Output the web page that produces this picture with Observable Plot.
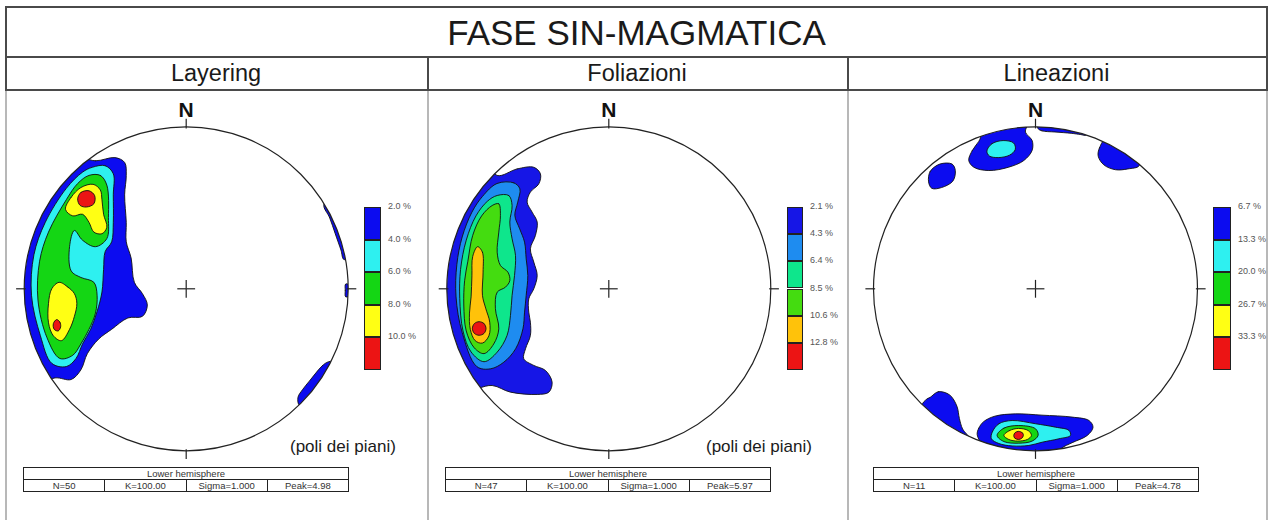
<!DOCTYPE html>
<html><head><meta charset="utf-8">
<script src="https://cdn.jsdelivr.net/npm/d3@7"></script>
<script src="https://cdn.jsdelivr.net/npm/@observablehq/plot@0.6"></script>
<style>
body{margin:0;background:#fff;font-family:"Liberation Sans",Arial,sans-serif;}
#root{position:relative;width:1272px;height:520px;overflow:hidden;background:#fff;}
.a{position:absolute;}
.ln{position:absolute;}
.lbl{position:absolute;font-size:9px;color:#555;white-space:nowrap;line-height:10px;}
table.info{position:absolute;border-collapse:collapse;font-size:9.5px;color:#333;table-layout:fixed;}
table.info td{border:1.4px solid #222;text-align:center;padding:0;height:11px;line-height:10px;}
</style></head><body><div id="root"></div>
<script>
// ---------- data ----------
const figureTitle = "FASE SIN-MAGMATICA";
const panelTitles = ["Layering", "Foliazioni", "Lineazioni"];
const layeringLevels = [2.0, 4.0, 6.0, 8.0, 10.0];
const foliazioniLevels = [2.1, 4.3, 6.4, 8.5, 10.6, 12.8];
const lineazioniLevels = [6.7, 13.3, 20.0, 26.7, 33.3];
const paletteA = ["#0c0cf0", "#2ef0f0", "#14d614", "#ffff14", "#ec1414"];
const paletteB = ["#1616e6", "#1e8cf0", "#0ee68c", "#44dc10", "#ffc20a", "#ec1414"];
const statN = [50, 47, 11];
const statK = ["100.00", "100.00", "100.00"];
const statSigma = ["1.000", "1.000", "1.000"];
const statPeak = ["4.98", "5.97", "4.78"];
const hemisphere = "Lower hemisphere";
const captionText = "(poli dei piani)";
const cardinals = [{dir: "N", az: 0}, {dir: "E", az: 90}, {dir: "S", az: 180}, {dir: "W", az: 270}];

// contour outlines, in % of the net radius (x east, y north)
const layBlueMain = [[-72,82],[-56,79],[-44,81],[-38,78],[-37,70],[-38,58],[-37,41],[-37,29],[-34,19],[-32,4],[-27,-3],[-24,-10],[-27,-17],[-36,-18],[-46,-25],[-54,-31],[-61,-40],[-65,-50],[-71,-56],[-81,-55],[-95,-60],[-115,-25],[-115,15],[-105,55]];
const layBlueEast = [[85,52],[88.5,44],[92,34],[95.5,24],[97.5,18],[108,25],[105,45],[95,62]];
const layBlueEastTip = [[98.5,3],[98.2,-1],[98.5,-5],[106,-1]];
const layBlueSE = [[88,-45],[84,-47.5],[80,-52],[76,-57],[72,-62],[69,-67],[70,-72],[82,-70],[95,-55],[100,-45]];
const layCyan = [[-58,75],[-50,76],[-45,71],[-45,58],[-45,41],[-46,29],[-50,23],[-51,12],[-52,-2],[-55,-14],[-59,-25],[-64,-34],[-68,-43],[-74,-48],[-83,-46],[-90,-29],[-95.5,-4],[-94,21],[-87,41],[-74,62],[-64,72]];
const layGreen = [[-60,70],[-53,70],[-49,64],[-48,44],[-49,31],[-56,26],[-64,30],[-69,36],[-72,26],[-71,11],[-65,7],[-57,4],[-55,-4],[-56,-15],[-60,-25],[-65,-34],[-70,-41],[-78,-43],[-86,-30],[-91.5,-7],[-90.5,17],[-85,35],[-74,55],[-67,65]];
const layYellowN = [[-74.5,49],[-71,56.5],[-65,62.5],[-57.5,64.5],[-53,61],[-52,55],[-51,46],[-49,38],[-52,34],[-57,35],[-60,41],[-64,46],[-70,45]];
const layYellowS = [[-78.5,4],[-73,1],[-69,-3],[-67.5,-9],[-69,-17],[-72,-25],[-77,-32],[-82,-29],[-85,-21],[-85,-9],[-83,0]];
const layRedN = [[-67,55.5],[-65,59.5],[-60,60.5],[-56.5,57.5],[-57,52.5],[-61.5,50.5],[-65.5,51.5]];
const layRedS = [[-80,-19],[-78,-20.5],[-77.5,-23.5],[-79,-26],[-81.5,-25],[-82,-21.5]];

const folBlue = [[-69,70],[-56.6,74],[-46.3,75],[-42.2,71],[-43.2,64.8],[-48.4,59.7],[-50.4,53.5],[-47.3,47.3],[-44.2,41.2],[-45.3,32.9],[-48.4,24.7],[-46.3,16.5],[-44.2,8.2],[-46.3,0],[-49.4,-6.2],[-49.4,-14.4],[-48.4,-20.6],[-48.4,-28.8],[-51.4,-37],[-52.5,-43.2],[-46.3,-47.3],[-39.1,-50.4],[-35,-57.6],[-37,-63.8],[-44.2,-65.2],[-60.7,-63.8],[-72,-59.7],[-90,-62],[-113,-30],[-115,0],[-110,35],[-95,66],[-78,82]];
const folLightBlue = [[-69,65],[-58.6,65.4],[-54.9,61.7],[-56.2,53.5],[-58,45.3],[-55,37],[-52,28.8],[-51,18.5],[-50,8.2],[-51,-4.1],[-52,-14.4],[-53,-24.7],[-57.5,-37],[-64.8,-45.3],[-73,-49.4],[-81.5,-48],[-90.5,-27],[-94.3,-5],[-93.8,15],[-90.5,32],[-84.5,47.3],[-78,57]];
const folAqua = [[-68.9,57.6],[-61.7,57.6],[-59.7,51.4],[-61.1,41.2],[-59.7,30.9],[-57.6,20.6],[-58.2,8.2],[-59.7,-4.1],[-60.7,-16.5],[-62.8,-28.8],[-68.9,-39.1],[-77,-45],[-85,-39],[-90,-26],[-92,-6],[-91.5,12],[-88,30],[-82,45],[-75,54]];
const folGreen = [[-72,51.4],[-67.9,52.5],[-66.9,45.3],[-67.9,35],[-68.9,22.6],[-66.9,14.4],[-62.3,10.3],[-61.1,5.1],[-63.8,1],[-68.9,-2.1],[-70,-12.3],[-67.9,-24.7],[-71,-34],[-77,-40],[-83,-36.5],[-88,-26],[-89.5,-10],[-89,5],[-87,17],[-84,33],[-78.5,45]];
const folOrange = [[-81,26],[-78,22.6],[-77.6,10.3],[-78,-4],[-76,-12],[-73.5,-20.6],[-74,-29],[-78,-33.5],[-82.5,-32],[-85.5,-25],[-86,-15],[-85,-5],[-84.5,8],[-84,20]];
const folRed = [[-80,-20.3],[-77,-21.5],[-75.8,-24.5],[-77,-27.5],[-80,-28.7],[-83,-27.5],[-84.2,-24.5],[-83,-21.5]];

const linBlueTop = [[-41.2,79.2],[-39,85.4],[-35,91],[-30,100],[-5,103],[-6.2,96.7],[-2.1,91.6],[-2.1,85.4],[-7.2,79.2],[-16.5,75.1],[-28.8,73],[-38,75]];
const linCyanTop = [[-30,85],[-27,89.5],[-20,91.5],[-13.5,90],[-12.5,86],[-16,82.5],[-23,81],[-28.5,82]];
const linBlueN = [[1.5,99],[4,97.5],[12,96.8],[22,96],[28,95.2],[31,94.8],[36,100],[15,106],[1,106]];
const linBlueNE = [[38.7,81.9],[39.5,87],[44,93],[62,84],[64,76],[57,74],[49.4,73.5],[42.2,76.5]];
const linBlueNW = [[-66,66],[-65,72.5],[-59,77],[-51.5,77],[-49.5,73],[-51,66.5],[-58,62.5],[-64,62]];
const linBlueSW = [[-65,-67],[-60,-63.5],[-53,-65.5],[-48.5,-72.5],[-47,-80],[-45,-86.5],[-41,-92],[-60,-85],[-70,-72],[-67,-68]];
const linBlueS = [[-36,-90],[-35,-86],[-32,-82],[-25,-78.6],[-12.3,-77.2],[4,-78],[22.6,-79.2],[33,-81.3],[35.5,-85.5],[32,-90.5],[22.6,-95],[16,-98.5],[10,-106],[-25,-104],[-33,-96]];
const linCyanS = [[-26.7,-88.5],[-22.6,-83.3],[-14.4,-81.3],[0,-83.3],[12.3,-85.4],[20.6,-87.4],[21.6,-90.5],[14.4,-92.6],[4.1,-94.7],[-4.1,-96.7],[-14.4,-97],[-22.6,-95.5],[-27.2,-92.6]];
const linGreenS = [[-23.7,-90.5],[-19.5,-86],[-10.3,-84.4],[0,-86.4],[1.6,-90.5],[-2.1,-94],[-10.3,-95.3],[-19.5,-94.3]];
const linYellowS = [[-19.5,-90.5],[-16,-87.5],[-10.5,-86.2],[-4.5,-87.5],[-2.5,-90.5],[-5,-93],[-11,-94],[-16.5,-93]];
const linRedS = [[-10.5,-88],[-8,-89],[-7.5,-90.5],[-8.5,-92.3],[-10.5,-93],[-12.8,-92.2],[-13.4,-90.5],[-12.6,-88.8]];

// ---------- layout ----------
const root = document.getElementById("root");
function box(x, y, w, h, color) {
  const d = document.createElement("div");
  d.className = "ln";
  Object.assign(d.style, {left: x + "px", top: y + "px", width: w + "px", height: h + "px", background: color});
  root.appendChild(d);
}
function txt(s, x, y, size, opts = {}) {
  const d = document.createElement("div");
  d.className = "a";
  d.textContent = s;
  Object.assign(d.style, {left: x + "px", top: y + "px", fontSize: size + "px", lineHeight: "1", whiteSpace: "nowrap", color: "#111"}, opts);
  root.appendChild(d);
  return d;
}
const dark = "#4a4a4a", light = "#b8b8b8";
const cols = [5, 427, 847, 1266];
// frame
box(5, 6, 1263, 2, dark);
box(5, 56, 1263, 2, dark);
box(5, 89, 1263, 2, dark);
box(5, 6, 2, 85, dark); box(1266, 6, 2, 85, dark);
box(427, 56, 2, 35, dark); box(847, 56, 2, 35, dark);
[5, 427, 847, 1266].forEach(x => box(x, 91, 2, 430, light));
// title
txt(figureTitle, 5, 15, 35, {width: "1263px", textAlign: "center", color: "#1a1a1a"});
panelTitles.forEach((s, i) => txt(s, cols[i], 62, 23.5, {width: (cols[i + 1] - cols[i]) + "px", textAlign: "center", color: "#1a1a1a"}));

const panels = [
  {left: 5, width: 422, cx: 185.7, levels: layeringLevels, colors: paletteA, legendX: 364, legendW: 17, caption: 290, tableX: 23,
   contours: [[0, layBlueMain], [0, layBlueEast], [0, layBlueEastTip], [0, layBlueSE], [1, layCyan], [2, layGreen], [3, layYellowN], [3, layYellowS], [4, layRedN], [4, layRedS]]},
  {left: 429, width: 418, cx: 608.3, levels: foliazioniLevels, colors: paletteB, legendX: 787, legendW: 16, caption: 706, tableX: 445,
   contours: [[0, folBlue], [1, folLightBlue], [2, folAqua], [3, folGreen], [4, folOrange], [5, folRed]]},
  {left: 849, width: 417, cx: 1035, levels: lineazioniLevels, colors: paletteA, legendX: 1213, legendW: 18, caption: null, tableX: 873,
   contours: [[0, linBlueTop], [0, linBlueN], [0, linBlueNE], [0, linBlueNW], [0, linBlueSW], [0, linBlueS], [1, linCyanTop], [1, linCyanS], [2, linGreenS], [3, linYellowS], [4, linRedS]]}
];

const k = 1.62;          // px per % of radius
const cyAbs = 288.3, topAbs = 91, H = 429;
const rad = Math.PI / 180;

panels.forEach((p, i) => {
  const W = p.width;
  const x0 = p.cx - p.left, y0 = cyAbs - topAbs;
  const plot = Plot.plot({
    width: W, height: H, margin: 0,
    x: {domain: [-x0 / k, (W - x0) / k], axis: null},
    y: {domain: [-(H - y0) / k, y0 / k], axis: null},
    style: {background: "none", fontFamily: "'Liberation Sans', Arial, sans-serif", overflow: "visible"},
    marks: [
      ...p.contours.map(([lev, pts]) => Plot.line(pts, {x: d => d[0], y: d => d[1], fill: p.colors[lev], stroke: "#111", strokeWidth: 0.9, curve: "catmull-rom-closed"})),
      Plot.dot([{x: 0, y: 0}], {x: "x", y: "y", r: 100 * k, fill: "none", stroke: "#222", strokeWidth: 1.2}),
      Plot.link(cardinals, {x1: d => 99 * Math.sin(d.az * rad), y1: d => 99 * Math.cos(d.az * rad), x2: d => 105 * Math.sin(d.az * rad), y2: d => 105 * Math.cos(d.az * rad), stroke: "#222", strokeWidth: 1.2}),
      Plot.link(cardinals, {x1: 0, y1: 0, x2: d => 5.5 * Math.sin(d.az * rad), y2: d => 5.5 * Math.cos(d.az * rad), stroke: "#222", strokeWidth: 1.2}),
      Plot.text(cardinals.filter(d => d.dir === "N"), {x: d => 110 * Math.sin(d.az * rad), y: d => 110 * Math.cos(d.az * rad), text: "dir", fontSize: 21, fontWeight: "bold", fill: "#111"})
    ]
  });
  // clip contour fills to the primitive circle
  const xs = plot.scale("x"), ys = plot.scale("y");
  const ns = "http://www.w3.org/2000/svg";
  const defs = document.createElementNS(ns, "defs");
  const cp = document.createElementNS(ns, "clipPath");
  cp.setAttribute("id", "netclip" + i);
  const c = document.createElementNS(ns, "circle");
  c.setAttribute("cx", xs.apply(0)); c.setAttribute("cy", ys.apply(0));
  c.setAttribute("r", xs.apply(100) - xs.apply(0));
  cp.appendChild(c); defs.appendChild(cp); plot.insertBefore(defs, plot.firstChild);
  plot.querySelectorAll('g[aria-label="line"]').forEach(g => g.setAttribute("clip-path", `url(#netclip${i})`));
  const holder = document.createElement("div");
  holder.className = "a";
  Object.assign(holder.style, {left: p.left + "px", top: topAbs + "px", width: W + "px", height: H + "px"});
  holder.appendChild(plot);
  root.appendChild(holder);

  // colour legend
  const n = p.levels.length, barTop = 207, barH = 163, step = barH / n;
  p.levels.forEach((v, j) => {
    const d = document.createElement("div");
    d.className = "a";
    Object.assign(d.style, {left: p.legendX + "px", top: (barTop + j * step) + "px", width: p.legendW + "px", height: step + "px", background: p.colors[j], boxSizing: "border-box", border: "1px solid #222", borderTopWidth: j === 0 ? "1px" : "0.5px", borderBottomWidth: j === n - 1 ? "1px" : "0.5px"});
    root.appendChild(d);
    const l = document.createElement("div");
    l.className = "lbl";
    l.textContent = v.toFixed(1) + " %";
    Object.assign(l.style, {left: (p.legendX + p.legendW + 7) + "px", top: (barTop + j * step - 6) + "px"});
    root.appendChild(l);
  });

  if (p.caption !== null) txt(captionText, p.caption, 438, 17, {color: "#1a1a1a"});

  const tb = document.createElement("table");
  tb.className = "info";
  Object.assign(tb.style, {left: p.tableX + "px", top: "467px", width: "326px"});
  tb.innerHTML = `<tr><td colspan="4">${hemisphere}</td></tr><tr><td>N=${statN[i]}</td><td>K=${statK[i]}</td><td>Sigma=${statSigma[i]}</td><td>Peak=${statPeak[i]}</td></tr>`;
  root.appendChild(tb);
});
</script></body></html>
